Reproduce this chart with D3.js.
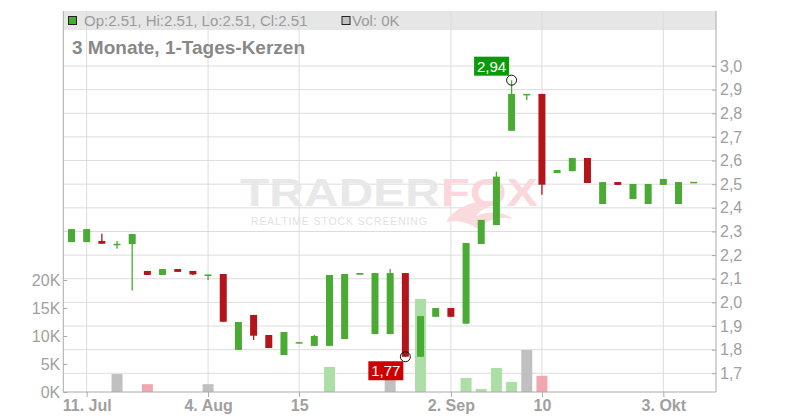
<!DOCTYPE html>
<html><head><meta charset="utf-8">
<script src="https://cdn.jsdelivr.net/npm/d3@7/dist/d3.min.js"></script>
<style>body{margin:0;background:#fff}svg{display:block;font-family:"Liberation Sans",Arial,sans-serif}</style>
</head><body><svg id="c" width="800" height="420"></svg>
<script>
// ---- data ----
const openP  = [2.255,2.255,2.26,2.248,2.247,2.133,2.116,2.141,2.133,2.118,2.12,1.799,1.947,1.862,1.777,1.826,1.816,1.816,1.845,2.117,1.866,1.866,2.124,1.77,1.939,1.976,1.91,2.247,2.327,2.726,2.882,2.882,2.547,2.555,2.611,2.416,2.509,2.437,2.416,2.497,2.416,2.51];
const highP  = [2.31,2.31,2.29,2.26,2.289,2.133,2.141,2.141,2.133,2.118,2.12,1.917,1.947,1.862,1.875,1.832,1.863,2.116,2.12,2.124,2.124,2.141,2.124,1.942,1.976,1.976,2.251,2.349,2.553,2.94,2.882,2.882,2.56,2.611,2.611,2.509,2.509,2.501,2.501,2.522,2.509,2.51];
const lowP   = [2.255,2.255,2.248,2.227,2.05,2.116,2.116,2.129,2.116,2.095,1.918,1.799,1.841,1.807,1.777,1.826,1.816,1.816,1.845,2.117,1.866,1.866,1.77,1.77,1.939,1.939,1.91,2.247,2.327,2.726,2.856,2.455,2.547,2.555,2.505,2.416,2.497,2.437,2.416,2.497,2.416,2.51];
const closeP = [2.31,2.31,2.248,2.248,2.289,2.116,2.141,2.129,2.118,2.118,1.918,1.917,1.859,1.807,1.875,1.832,1.858,2.116,2.12,2.124,2.124,2.124,1.77,1.942,1.976,1.939,2.251,2.349,2.532,2.882,2.882,2.498,2.56,2.611,2.505,2.509,2.497,2.501,2.501,2.522,2.509,2.51];
const volumeK = [0,0,0,3.2,0,1.4,0,0,0,1.4,0,0,0,0,0,0,0,4.46,0,0,0,2.2,0,16.6,0,0,2.5,0.55,4.3,1.8,7.5,2.9,0,0,0,0,0,0,0,0,0,0];
const xTickIdx = [1,9,15,25,31,39];
const xTickLabels = ["11. Jul","4. Aug","15","2. Sep","10","3. Okt"];
const priceTicks = [1.7,1.8,1.9,2.0,2.1,2.2,2.3,2.4,2.5,2.6,2.7,2.8,2.9,3.0];
const volTicks = [0,5,10,15,20];
const highMark = {i:29, v:2.94, label:"2,94"};
const lowMark = {i:22, v:1.77, label:"1,77"};

// ---- layout ----
const L=63.3, R=716, B=392, T=11;
const svg=d3.select("#c");
const x=d3.scaleLinear().domain([-0.54,42.47]).range([L,R]);
const y=d3.scaleLinear().domain([1.7,3.0]).range([373.3,66]);
const yv=d3.scaleLinear().domain([0,20]).range([B,280]);
const GREEN="#49aa34", RED="#b3151a", GRID="#dcdcdc", AX="#aaaaaa", TXT="#a0a0a0";

// header band
svg.append("rect").attr("x",L).attr("y",T).attr("width",R-L).attr("height",19).attr("fill","#e6e6e6");

// grid
const g=svg.append("g");
g.selectAll(".hg").data(priceTicks).join("line").attr("x1",L).attr("x2",R).attr("y1",d=>y(d)).attr("y2",d=>y(d)).attr("stroke",GRID);
g.selectAll(".vg").data(xTickIdx).join("line").attr("x1",d=>x(d)).attr("x2",d=>x(d)).attr("y1",T).attr("y2",B).attr("stroke",GRID);

// watermark
const wm=svg.append("g");
wm.append("text").attr("x",240).attr("y",206).attr("font-family","Liberation Sans").attr("font-weight","bold").attr("font-size",39).attr("fill","#e8e8e8").attr("textLength",200).attr("lengthAdjust","spacingAndGlyphs").text("TRADER");
wm.append("path").attr("d","M446,222 C456,205 478,198 500,203 C488,206 480,210 476,216 C490,210 505,212 513,219 C498,216 486,220 478,229 C468,222 457,220 446,222 Z").attr("fill","#fadadd");
wm.append("text").attr("x",441).attr("y",206).attr("font-family","Liberation Sans").attr("font-weight","bold").attr("font-size",39).attr("fill","#fbd6da").attr("textLength",97).attr("lengthAdjust","spacingAndGlyphs").text("FOX");
wm.append("text").attr("x",251).attr("y",224.5).attr("font-family","Liberation Sans").attr("font-size",10.5).attr("fill","#e2e2e2").attr("textLength",176).attr("lengthAdjust","spacing").text("REALTIME STOCK SCREENING");

// volume bars
const idx=d3.range(openP.length);
function volColor(i){ if(i===0) return "#c0c0c0"; const d=closeP[i]-closeP[i-1]; return Math.abs(d)<1e-9?"#c0c0c0":(d>0?"#acdea6":"#f0a7b0"); }
svg.append("g").selectAll("rect").data(idx.filter(i=>volumeK[i]>0)).join("rect")
  .attr("x",i=>x(i)-5.5).attr("width",11).attr("y",i=>yv(volumeK[i])).attr("height",i=>B-yv(volumeK[i])).attr("fill",volColor);

// candles
const cg=svg.append("g");
idx.forEach(i=>{
  const col = closeP[i]>=openP[i]?GREEN:RED;
  const cx=x(i);
  cg.append("line").attr("x1",cx).attr("x2",cx).attr("y1",y(highP[i])).attr("y2",y(lowP[i])).attr("stroke",col).attr("stroke-width",1.3);
  const top=y(Math.max(openP[i],closeP[i])), bot=y(Math.min(openP[i],closeP[i]));
  const h=Math.max(bot-top,1.5);
  cg.append("rect").attr("x",cx-3.5).attr("width",7).attr("y",top).attr("height",h).attr("fill",col);
});

// axes
svg.append("line").attr("x1",L).attr("x2",L).attr("y1",T).attr("y2",B).attr("stroke",AX);
svg.append("line").attr("x1",R).attr("x2",R).attr("y1",T).attr("y2",B).attr("stroke",AX);
svg.append("line").attr("x1",L).attr("x2",R).attr("y1",B).attr("y2",B).attr("stroke",AX);

const ra=svg.append("g").attr("transform",`translate(${R},0)`).call(d3.axisLeft(y).tickValues(priceTicks).tickSize(4).tickFormat(d=>d3.format(".1f")(d).replace(".",",")));
ra.select(".domain").remove();
ra.selectAll(".tick line").attr("stroke",AX);
ra.selectAll(".tick text").attr("x",4).attr("text-anchor","start").attr("fill",TXT).attr("font-size",16).attr("font-family","Liberation Sans");

const la=svg.append("g").attr("transform",`translate(${L},0)`).call(d3.axisRight(yv).tickValues(volTicks).tickSize(4).tickFormat(d=>d+"K"));
la.select(".domain").remove();
la.selectAll(".tick line").attr("stroke",AX);
la.selectAll(".tick text").attr("x",-3).attr("text-anchor","end").attr("fill",TXT).attr("font-size",16).attr("font-family","Liberation Sans");

const xa=svg.append("g").attr("transform",`translate(0,${B})`).call(d3.axisBottom(x).tickValues(xTickIdx).tickSize(5).tickFormat((d,k)=>xTickLabels[k]));
xa.select(".domain").remove();
xa.selectAll(".tick line").attr("stroke",AX);
xa.selectAll(".tick text").attr("y",8).attr("fill",TXT).attr("font-size",16).attr("font-weight","bold").attr("font-family","Liberation Sans");

// header texts
svg.append("rect").attr("x",68.5).attr("y",16.5).attr("width",8).attr("height",8).attr("fill",GREEN).attr("stroke","#222");
svg.append("text").attr("x",84).attr("y",26).attr("font-size",15).attr("fill","#9a9a9a").text("Op:2.51, Hi:2.51, Lo:2.51, Cl:2.51");
svg.append("rect").attr("x",342).attr("y",16.5).attr("width",8).attr("height",8).attr("fill","#c0c0c0").attr("stroke","#222");
svg.append("text").attr("x",352).attr("y",26).attr("font-size",15).attr("fill","#9a9a9a").text("Vol: 0K");
svg.append("text").attr("x",72).attr("y",53.5).attr("font-size",19).attr("font-weight","bold").attr("fill","#888").text("3 Monate, 1-Tages-Kerzen");

// high / low markers
function marker(m, fill, bx, by){
  svg.append("circle").attr("cx",x(m.i)).attr("cy",y(m.v)).attr("r",5).attr("fill","none").attr("stroke","#111").attr("stroke-width",1);
  svg.append("rect").attr("x",x(m.i)+bx).attr("y",y(m.v)+by).attr("width",35).attr("height",19).attr("fill",fill);
  svg.append("text").attr("x",x(m.i)+bx+17.5).attr("y",y(m.v)+by+15).attr("text-anchor","middle").attr("font-size",15).attr("fill","#fff").text(m.label);
}
marker(highMark,"#0a9a0a",-37.5,-23.5);
marker(lowMark,"#cc0000",-37,4.5);
</script></body></html>
